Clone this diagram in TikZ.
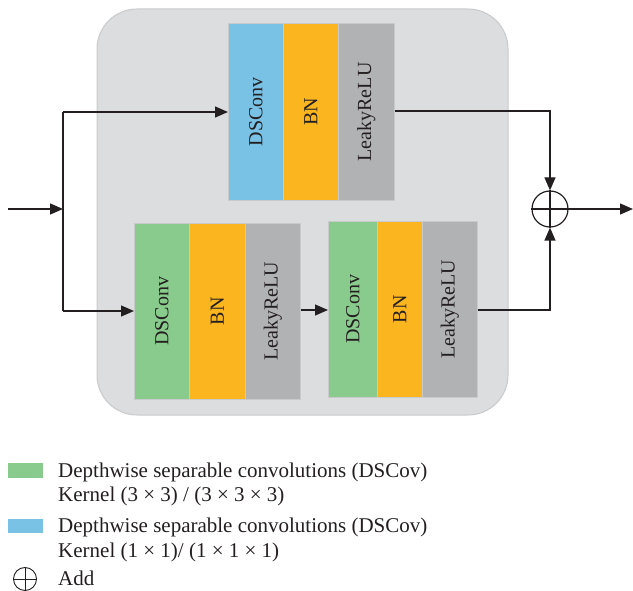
\documentclass[tikz,border=0pt]{standalone}
\usepackage{fontspec}
\setmainfont{Liberation Serif}
\usetikzlibrary{arrows.meta,calc}
\definecolor{bgc}{HTML}{DCDDDF}
\definecolor{bgb}{HTML}{C9CACC}
\definecolor{bluec}{HTML}{7AC2E5}
\definecolor{orangec}{HTML}{FBB51F}
\definecolor{grayc}{HTML}{B1B2B4}
\definecolor{greenc}{HTML}{89CB8C}
\definecolor{linec}{HTML}{231F20}
\begin{document}
\begin{tikzpicture}[x=1pt,y=-1pt,
  blk/.style={draw=bgb,line width=0.8pt,anchor=north west,inner sep=0pt,minimum height=#1},
  lbl/.style={rotate=90,font=\fontsize{20}{22}\selectfont,text=linec},
  conn/.style={draw=linec,line width=1.2pt},
  arr/.style={conn,-{Triangle[length=13pt,width=11pt]}},
  legtxt/.style={anchor=base west,inner sep=0pt,font=\fontsize{21}{24}\selectfont,text=linec}]
\useasboundingbox (0,0) rectangle (633,591);
% background panel
\draw[fill=bgc,draw=bgb,line width=1pt,rounded corners=40pt] (97,9) rectangle (508,415);
% top block
\node[blk=177pt,minimum width=55pt,fill=bluec] (t1) at (228,23) {};
\node[blk=177pt,minimum width=55pt,fill=orangec] (t2) at (283,23) {};
\node[blk=177pt,minimum width=56pt,fill=grayc] (t3) at (338,23) {};
% bottom left block
\node[blk=176pt,minimum width=55pt,fill=greenc] (a1) at (134,223) {};
\node[blk=176pt,minimum width=56pt,fill=orangec] (a2) at (189,223) {};
\node[blk=176pt,minimum width=55pt,fill=grayc] (a3) at (245,223) {};
% bottom right block
\node[blk=176pt,minimum width=49pt,fill=greenc] (b1) at (328,221) {};
\node[blk=176pt,minimum width=45pt,fill=orangec] (b2) at (377,221) {};
\node[blk=176pt,minimum width=55pt,fill=grayc] (b3) at (422,221) {};
% labels
\node[lbl] at (t1.center) {DSConv};
\node[lbl] at (t2.center) {BN};
\node[lbl] at (t3.center) {LeakyReLU};
\node[lbl] at (a1.center) {DSConv};
\node[lbl] at (a2.center) {BN};
\node[lbl] at (a3.center) {LeakyReLU};
\node[lbl] at (b1.center) {DSConv};
\node[lbl] at (b2.center) {BN};
\node[lbl] at (b3.center) {LeakyReLU};
% add node
\node[draw=linec,line width=1.2pt,circle,minimum size=36pt,inner sep=0pt] (add) at (550,209) {};
\draw[conn] (add.north) -- (add.south) (add.west) -- (add.east);
% connectors
\coordinate (in) at (8,209);
\coordinate (j) at (63,209);
\coordinate (jt) at (63,112);
\coordinate (jb) at (63,311);
\coordinate (out) at (633,209);
\draw[arr] (in) -- (j);
\draw[conn] (jt) -- (jb);
\draw[arr] (jt) -- (jt -| t1.west);
\draw[arr] (jb) -- (jb -| a1.west);
\draw[arr] (a3.east |- 0,310) -- (b1.west |- 0,310);
\draw[arr] (t3.east |- 0,111) -| (add.north);
\draw[arr] (b3.east |- 0,310) -| (add.south);
\draw[arr] (add.east) -- (out);
% legend
\fill[greenc] (8,463) rectangle (43,478);
\fill[bluec] (8,519) rectangle (43,533);
\node[legtxt] (l1) at (58,477) {Depthwise separable convolutions (DSCov)};
\node[legtxt] (l2) at (58,501) {Kernel (3 × 3) / (3 × 3 × 3)};
\node[legtxt] (l3) at (58,532) {Depthwise separable convolutions (DSCov)};
\node[legtxt] (l4) at (58,557) {Kernel (1 × 1)/ (1 × 1 × 1)};
\node[draw=linec,line width=0.9pt,circle,minimum size=23pt,inner sep=0pt] (ladd) at (25,579) {};
\draw[line width=0.9pt,draw=linec] (ladd.north) -- (ladd.south) (ladd.west) -- (ladd.east);
\node[legtxt] (l5) at (58,585) {Add};
\end{tikzpicture}
\end{document}
